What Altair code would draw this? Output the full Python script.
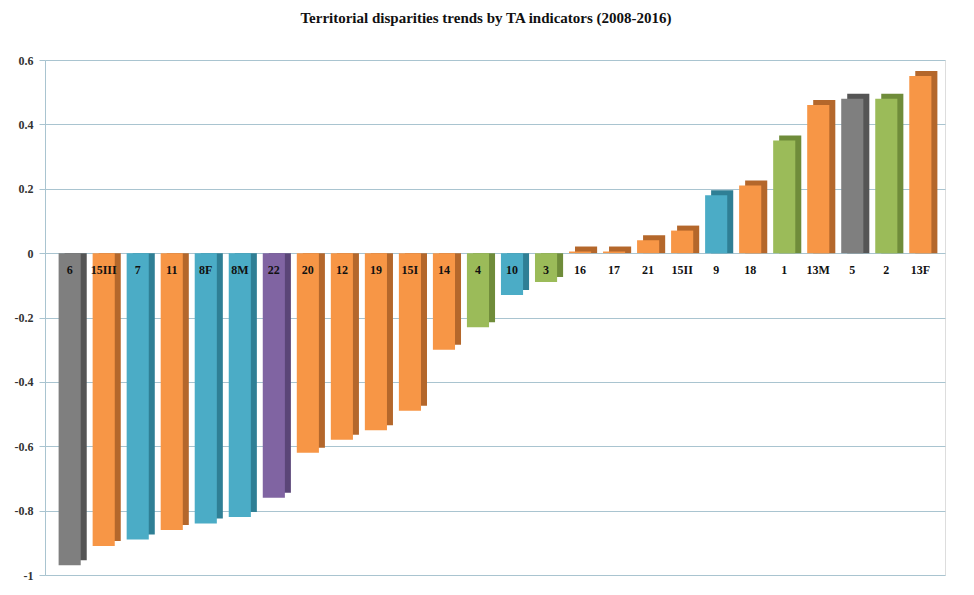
import altair as alt
import pandas as pd

categories = ["6", "15III", "7", "11", "8F", "8M", "22", "20", "12", "19", "15I", "14", "4",
              "10", "3", "16", "17", "21", "15II", "9", "18", "1", "13M", "5", "2", "13F"]
values = [-0.97, -0.91, -0.89, -0.86, -0.84, -0.82, -0.76, -0.62, -0.58, -0.55, -0.49, -0.30, -0.23,
          -0.13, -0.09, 0.005, 0.005, 0.04, 0.07, 0.18, 0.21, 0.35, 0.46, 0.48, 0.48, 0.55]
groups = ["gray", "orange", "teal", "orange", "teal", "teal", "purple", "orange", "orange", "orange",
          "orange", "orange", "green", "teal", "green", "orange", "orange", "orange", "orange", "teal",
          "orange", "green", "orange", "gray", "green", "orange"]

group_names = ["gray", "orange", "teal", "purple", "green"]
front_colors = ["#7f7f7f", "#f79646", "#4bacc6", "#8064a2", "#9bbb59"]
side_colors = ["#555555", "#b4672b", "#2f7f95", "#5a4577", "#6f8c3a"]
y_ticks = [-1, -0.8, -0.6, -0.4, -0.2, 0, 0.2, 0.4, 0.6]

df = pd.DataFrame({"cat": categories, "val": values, "grp": groups})

serif = "Liberation Serif"

x_enc = alt.X("cat:N", sort=categories, axis=None,
              scale=alt.Scale(paddingInner=0.35, paddingOuter=0.4))
y_scale = alt.Scale(domain=[-1, 0.6], nice=False, zero=False)

base = alt.Chart(df)

side = base.mark_bar(xOffset=6, yOffset=-5).encode(
    x=x_enc,
    y=alt.Y("val:Q", scale=y_scale,
            axis=alt.Axis(values=y_ticks, title=None, grid=True, gridColor="#a9c4d0",
                          gridWidth=1, domainColor="#a9c4d0", tickColor="#a9c4d0",
                          tickSize=6, labelFont=serif, labelFontWeight="bold",
                          labelFontSize=12, labelColor="#333333", labelPadding=6,
                          labelExpr="toString(datum.value)")),
    y2=alt.datum(0),
    color=alt.Color("grp:N", scale=alt.Scale(domain=group_names, range=side_colors), legend=None),
)

front = base.mark_bar().encode(
    x=x_enc,
    y=alt.Y("val:Q", scale=y_scale),
    y2=alt.datum(0),
    fill=alt.Fill("grp:N", scale=alt.Scale(domain=group_names, range=front_colors), legend=None),
)

labels = base.mark_text(font=serif, fontWeight="bold", fontSize=12, color="#111111",
                        baseline="middle").encode(
    x=x_enc,
    y=alt.value(210),
    text="cat:N",
)

chart = alt.layer(side, front, labels).resolve_scale(
    color="independent", fill="independent"
).properties(
    width=900,
    height=515,
    title=alt.TitleParams("Territorial disparities trends by TA indicators (2008-2016)",
                          font=serif, fontSize=15, fontWeight="bold", color="#111111",
                          anchor="middle", dx=-9, offset=28),
    autosize=alt.AutoSizeParams(type="none"),
    padding={"left": 37, "top": 52, "right": 21, "bottom": 12},
).configure_view(stroke=None).configure(background="white")

chart.save("out.html", embed_options={"renderer": "svg", "actions": False})
